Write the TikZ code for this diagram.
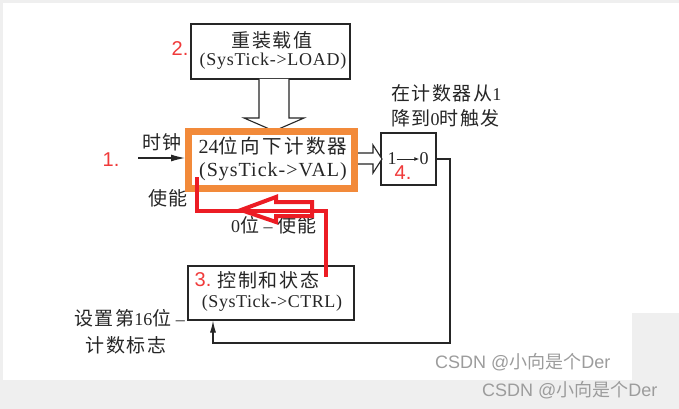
\documentclass[tikz,border=0pt]{standalone}
\usepackage{fontspec}
\setmainfont{Liberation Serif}
\newfontfamily\cjk{Noto Sans CJK SC}[LetterSpace=8]
\newfontfamily\cjkv{Noto Sans CJK SC}[LetterSpace=12]
\newfontfamily\cjkplain{Noto Sans CJK SC}
\newfontfamily\wsans{Liberation Sans}
\usetikzlibrary{arrows.meta}
\definecolor{bg}{HTML}{EFEFEF}
\definecolor{ink}{HTML}{262626}
\definecolor{orng}{HTML}{F28A3A}
\definecolor{redl}{HTML}{EC1C24}
\definecolor{redt}{HTML}{F03A3A}
\definecolor{wm}{HTML}{9C9C9C}
\begin{document}
\begin{tikzpicture}[x=1pt,y=-1pt,
  txt/.style={inner sep=0pt, text=ink, font=\fontsize{18}{21}\selectfont},
  cjktxt/.style={inner sep=0pt, text=ink, font=\cjk\fontsize{19}{22}\selectfont},
  bigtxt/.style={inner sep=0pt, text=ink, font=\fontsize{20}{24}\selectfont},
  num/.style={inner sep=0pt, text=redt, font=\wsans\fontsize{20}{24}\selectfont},
  boxx/.style={draw=ink, line width=1.2pt, inner sep=0pt, fill=white},
  wire/.style={draw=ink, line width=1.1pt},
  hollow/.style={draw=ink, line width=1.1pt, fill=white, line join=miter},
  redline/.style={draw=redl, line width=4pt, line join=miter},
  wmark/.style={inner sep=0pt, text=wm, font=\wsans\fontsize{18}{21}\selectfont, anchor=west},
]
\fill[bg] (0,0) rectangle (679,409);
\fill[white] (3,3) rectangle (632,380);
\fill[white] (419,3) rectangle (679,313);
\useasboundingbox (0,0) rectangle (679,409);

% boxes
\node[boxx, minimum width=159pt, minimum height=55pt] (load) at (270.5,51.5) {};
\node[boxx, minimum width=55pt, minimum height=52pt] (cnt) at (408.5,159) {};
\node[boxx, minimum width=166pt, minimum height=54pt] (ctrl) at (271,293) {};

% hollow arrow load -> counter
\draw[hollow] (259,79) -- (259,118) -- (244,118) -- (274,131) -- (304,118) -- (289,118) -- (289,79);

% orange counter box
\node[draw=orng, line width=7pt, fill=white, minimum width=166pt, minimum height=57pt, inner sep=0pt] (val) at (271.5,160) {};

% hollow arrow counter -> 1->0
\draw[hollow] (358,153) -- (373,153) -- (373,145) -- (382,159) -- (373,173) -- (373,164) -- (358,164);

% clock arrow
\coordinate (clk) at (138,158);
\coordinate (clkend) at (185,158);
\draw[wire, -{Latex[length=14pt,width=7pt]}] (clk) -- (clkend);

% feedback
\coordinate (fbR) at (450,343);
\coordinate (fbL) at (213,343);
\draw[wire, -{Latex[length=12pt,width=6pt]}] (cnt.east) -| (fbR) -- (fbL) -- (fbL |- ctrl.south);

% texts
\node[cjktxt] (tload1) at (272,40) {重装载值};
\node[txt] (tload2) at (273,61) {\addfontfeature{LetterSpace=4}(SysTick->LOAD)};
\node[bigtxt] (tval1) at (273,146) {24{\cjkv\fontsize{19.5}{22}\selectfont 位向下计数器}};
\node[bigtxt] (tval2) at (273,172) {\addfontfeature{LetterSpace=5}(SysTick->VAL)};
\node[cjktxt] (tctrl1) at (268.5,280) {控制和状态};
\node[txt] (tctrl2) at (272,303) {\addfontfeature{LetterSpace=3}(SysTick->CTRL)};

\node[txt] (one) at (392,159) {1};
\node[txt] (zero) at (424,159) {0};
\draw[draw=ink, line width=0.9pt, -{Latex[length=5pt,width=4pt]}] (one.east) -- (zero.west);

\node[cjktxt] (clock) at (162,142) {时钟};
\node[cjktxt] (en) at (168,198) {使能};
\node[txt] (en0) at (274,225) {0{\cjk\fontsize{19}{22}\selectfont 位} – {\cjk\fontsize{19}{22}\selectfont 使能}};
\node[txt, anchor=west] (note1) at (391,93) {{\cjk\fontsize{19}{22}\selectfont 在计数器从}1};
\node[txt, anchor=west] (note2) at (391,118) {{\cjk\fontsize{19}{22}\selectfont 降到}0{\cjk\fontsize{19}{22}\selectfont 时触发}};
\node[txt, anchor=east] (flag1) at (185,318) {{\cjk\fontsize{19}{22}\selectfont 设置第}16{\cjk\fontsize{19}{22}\selectfont 位} –};
\node[cjktxt] (flag2) at (126,345) {计数标志};

% red annotations
\coordinate (rA) at (197,177);
\coordinate (rB) at (326,211);
\coordinate (rC) at (326,277);
\draw[redline] (rA) |- (rB) -- (rC);
\draw[draw=redl, line width=4pt, line join=miter] (312,202) -- (276,202) -- (276,197) -- (241,210) -- (276,222) -- (276,216) -- (312,216) -- cycle;

\node[num] (n1) at (111,160) {1.};
\node[num] (n2) at (180,49) {2.};
\node[num] (n3) at (203,280) {3.};
\node[num] (n4) at (403,173) {4.};

% watermarks
\node[wmark] (wm1) at (435,362) {CSDN @{\cjkplain 小向是个}Der};
\node[wmark] (wm2) at (482,390) {CSDN @{\cjkplain 小向是个}Der};
\end{tikzpicture}
\end{document}
